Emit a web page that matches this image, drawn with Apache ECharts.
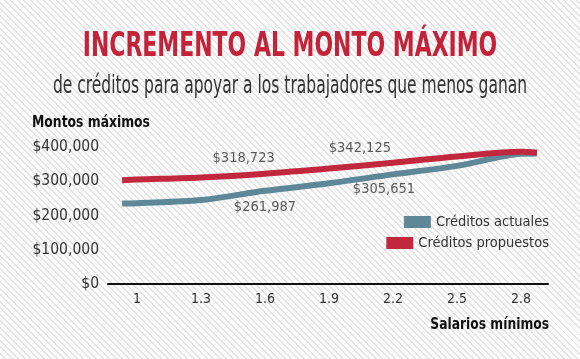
<!DOCTYPE html>
<html>
<head>
<meta charset="utf-8">
<script src="https://cdn.jsdelivr.net/npm/echarts@6/dist/echarts.min.js"></script>
<style>
html,body{margin:0;padding:0;}
body{width:580px;height:359px;overflow:hidden;
background:repeating-linear-gradient(45deg,#fbfbfb 0px,#fbfbfb 3.2px,#e4e4e4 3.2px,#e4e4e4 4.6px);}
#c{width:580px;height:359px;}
</style>
</head>
<body>
<div id="c"></div>
<script>
// Salarios mínimos (x positions of traced points)
var salarios = [0.93, 1, 1.3, 1.6, 1.9, 2.2, 2.5, 2.8, 2.875];
// Créditos actuales
var actuales = [235000, 236000, 245000, 272000, 294000, 320000, 345000, 380000, 381000];
// Créditos propuestos
var propuestos = [303000, 305000, 311000, 322000, 337000, 354000, 372000, 386000, 384000];
// x tick labels
var xTicks = [1, 1.3, 1.6, 1.9, 2.2, 2.5, 2.8];
// annotated values
var annoPropX = [1.50, 2.045];
var annoPropV = [318723, 342125];
var annoActX = [1.60, 2.158];
var annoActV = [261987, 305651];

var FONT = '"DejaVu Sans Condensed","DejaVu Sans",sans-serif';
var RED = '#c1283e', BLUE = '#5e8798', TITLE_RED = '#c32238';

function pairs(xs, ys){ return xs.map(function(x,i){ return [x, ys[i]]; }); }
function money(v){ return '$' + v.toLocaleString('en-US'); }
function txt(t, x, y, size, weight, color, align, sx){
  return {type:'text', x:x, y:y, scaleX:sx, silent:true,
    style:{text:t, fontFamily:FONT, fontSize:size, fontWeight:weight, fill:color,
      align:align, verticalAlign:'middle'}};
}

var chart = echarts.init(document.getElementById('c'), null, {renderer:'canvas'});
chart.setOption({
  animation:false,
  backgroundColor:'transparent',
  graphic:[
    txt('INCREMENTO AL MONTO MÁXIMO', 290, 47, 33, 'bold', TITLE_RED, 'center', 0.74),
    txt('de créditos para apoyar a los trabajadores que menos ganan', 290, 86, 25, 'normal', '#333', 'center', 0.69),
    txt('Montos máximos', 32, 122.5, 16, 'bold', '#111', 'left', 0.86),
    txt('Salarios mínimos', 549, 325, 16, 'bold', '#111', 'right', 0.855)
  ],
  legend:[
    {data:['Créditos actuales'], right:26, top:209.5, icon:'rect', itemWidth:27, itemHeight:12,
     textStyle:{fontFamily:FONT, fontSize:14.5, color:'#333'}, selectedMode:false},
    {data:['Créditos propuestos'], right:26, top:230.5, icon:'rect', itemWidth:27, itemHeight:12,
     textStyle:{fontFamily:FONT, fontSize:14.5, color:'#333'}, selectedMode:false}
  ],
  grid:{left:108, right:32, top:147, bottom:75},
  xAxis:{
    type:'value', min:0.864, max:2.927,
    axisLine:{show:true, lineStyle:{color:'#111', width:2}},
    axisTick:{show:false},
    splitLine:{show:false},
    axisLabel:{customValues:xTicks, margin:8, fontFamily:FONT, fontSize:14, color:'#333',
      formatter:function(v){ return String(Math.round(v*10)/10); }}
  },
  yAxis:{
    type:'value', min:0, max:400000, interval:100000,
    axisLine:{show:false}, axisTick:{show:false}, splitLine:{show:false},
    axisLabel:{margin:9, fontFamily:FONT, fontSize:15.5, color:'#333', formatter:money}
  },
  series:[
    {name:'Créditos actuales', type:'line', data:pairs(salarios, actuales), smooth:0.3,
     showSymbol:false, color:BLUE, lineStyle:{width:6, color:BLUE}, itemStyle:{color:BLUE}, silent:true},
    {name:'Créditos propuestos', type:'line', data:pairs(salarios, propuestos), smooth:0.3,
     showSymbol:false, color:RED, lineStyle:{width:6, color:RED}, itemStyle:{color:RED}, silent:true},
    {name:'anno', type:'scatter', symbolSize:0, silent:true,
     data:[
       {value:[annoPropX[0], annoPropV[0]], label:{offset:[0,-17]}},
       {value:[annoPropX[1], annoPropV[1]], label:{offset:[0,-18.5]}},
       {value:[annoActX[0], annoActV[0]], label:{offset:[0,12.5]}},
       {value:[annoActX[1], annoActV[1]], label:{offset:[0,10]}}
     ],
     label:{show:true, position:'inside', fontFamily:FONT, fontSize:14.5, color:'#333',
       formatter:function(p){ return money(p.value[1]); }}
    }
  ]
});
</script>
</body>
</html>
